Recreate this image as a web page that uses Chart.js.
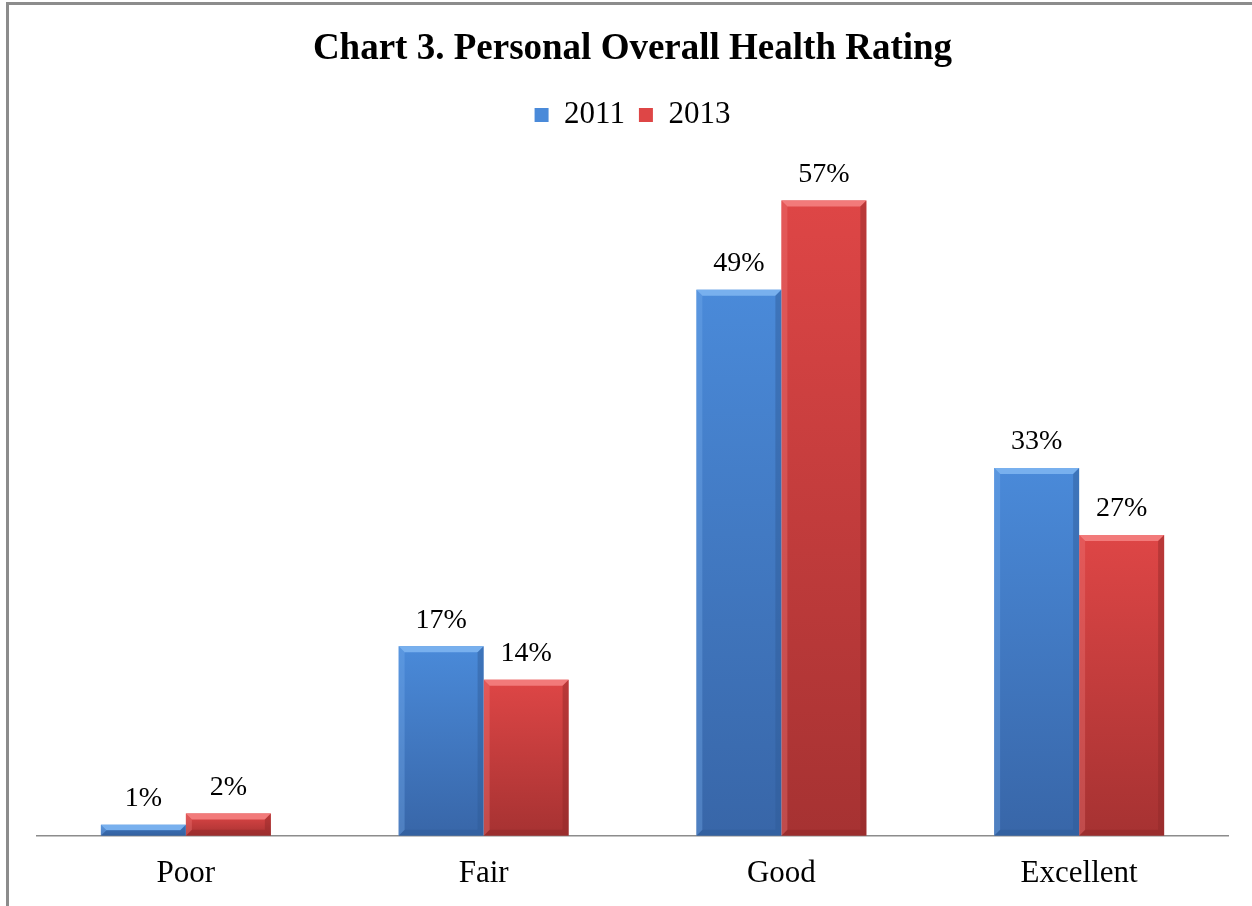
<!DOCTYPE html>
<html>
<head>
<meta charset="utf-8">
<script src="https://cdn.jsdelivr.net/npm/chart.js@4.4.0/dist/chart.umd.min.js"></script>
<style>
  html, body { margin: 0; padding: 0; background: #fff; }
  #wrap { position: relative; width: 1252px; height: 906px; overflow: hidden; }
  #frame { position: absolute; left: 6px; top: 2px; width: 1400px; height: 1000px;
           border-top: 3px solid #8c8c8c; border-left: 3px solid #8c8c8c; }
  #healthChart { position: absolute; left: 0; top: 0; }
</style>
</head>
<body>
<div id="wrap">
  <div id="frame"></div>
  <canvas id="healthChart" width="1252" height="906"></canvas>
</div>
<script>
var categories = ["Poor", "Fair", "Good", "Excellent"];
var years = ["2011", "2013"];
var values2011 = [1, 17, 49, 33];
var values2013 = [2, 14, 57, 27];

var serifFont = "'Liberation Serif', 'Times New Roman', serif";

// top / bottom / bevel colours per series
var palette = {
  "2011": { top: "#4a8ad9", bottom: "#3866a8", solid: "#3f77c4", light: "#78b0ee", dark: "#2f5a96" },
  "2013": { top: "#de4646", bottom: "#a63232", solid: "#c83c3c", light: "#f27a7a", dark: "#8e2828" }
};

function barFill(year)
{
  return function (context)
  {
    var chart = context.chart;
    var c = palette[year];
    if (context.type !== 'data' || !chart.scales.y) {
      return c.solid;
    }
    var yScale = chart.scales.y;
    var top = yScale.getPixelForValue(context.parsed.y);
    var base = yScale.getPixelForValue(0);
    if (!isFinite(top) || !isFinite(base) || base - top < 1) {
      return c.solid;
    }
    var g = chart.ctx.createLinearGradient(0, top, 0, base);
    g.addColorStop(0, c.top);
    g.addColorStop(1, c.bottom);
    return g;
  };
}

// Bevel edges on each bar, taken from the bar elements
var bevelPlugin = {
  id: 'bevel',
  afterDatasetsDraw: function (chart)
  {
    var ctx = chart.ctx;
    chart.data.datasets.forEach(function (ds, di) {
      var c = palette[ds.label];
      chart.getDatasetMeta(di).data.forEach(function (bar) {
        var left = bar.x - bar.width / 2;
        var right = bar.x + bar.width / 2;
        var top = bar.y;
        var base = bar.base;
        var b = Math.min(6, (base - top) / 2);
        ctx.save();
        // top bevel
        ctx.fillStyle = c.light;
        ctx.beginPath();
        ctx.moveTo(left, top);
        ctx.lineTo(right, top);
        ctx.lineTo(right - b, top + b);
        ctx.lineTo(left + b, top + b);
        ctx.closePath();
        ctx.fill();
        // right side shade
        ctx.fillStyle = c.dark;
        ctx.globalAlpha = 0.45;
        ctx.beginPath();
        ctx.moveTo(right, top);
        ctx.lineTo(right, base);
        ctx.lineTo(right - b, base - b);
        ctx.lineTo(right - b, top + b);
        ctx.closePath();
        ctx.fill();
        // bottom shade
        ctx.beginPath();
        ctx.moveTo(left, base);
        ctx.lineTo(right, base);
        ctx.lineTo(right - b, base - b);
        ctx.lineTo(left + b, base - b);
        ctx.closePath();
        ctx.fill();
        // left side light
        ctx.fillStyle = c.light;
        ctx.globalAlpha = 0.35;
        ctx.beginPath();
        ctx.moveTo(left, top);
        ctx.lineTo(left, base);
        ctx.lineTo(left + b, base - b);
        ctx.lineTo(left + b, top + b);
        ctx.closePath();
        ctx.fill();
        ctx.restore();
      });
    });
  }
};

// Value labels above bars
var valueLabels = {
  id: 'valueLabels',
  afterDatasetsDraw: function (chart)
  {
    var ctx = chart.ctx;
    ctx.save();
    ctx.font = "28px " + serifFont;
    ctx.fillStyle = "#000";
    ctx.textAlign = "center";
    ctx.textBaseline = "middle";
    chart.data.datasets.forEach(function (ds, di) {
      chart.getDatasetMeta(di).data.forEach(function (bar, i) {
        ctx.fillText(ds.data[i] + "%", bar.x, bar.y - 26);
      });
    });
    ctx.restore();
  }
};

new Chart(document.getElementById('healthChart'), {
  type: 'bar',
  data: {
    labels: categories,
    datasets: [
      {
        label: years[0],
        data: values2011,
        backgroundColor: barFill("2011"),
        borderWidth: 0,
        categoryPercentage: 0.571,
        barPercentage: 1
      },
      {
        label: years[1],
        data: values2013,
        backgroundColor: barFill("2013"),
        borderWidth: 0,
        categoryPercentage: 0.571,
        barPercentage: 1
      }
    ]
  },
  options: {
    responsive: false,
    animation: false,
    layout: {
      padding: { left: 37, right: 24, top: 0, bottom: -5 }
    },
    plugins: {
      title: {
        display: true,
        text: "Chart 3. Personal Overall Health Rating",
        color: "#000",
        font: { family: serifFont, size: 37, weight: 'bold', lineHeight: 1.2 },
        padding: { top: 27, bottom: 14 }
      },
      legend: {
        display: true,
        position: 'top',
        labels: {
          color: "#000",
          font: { family: serifFont, size: 31 },
          boxWidth: 14,
          boxHeight: 14,
          padding: 14
        }
      },
      tooltip: { enabled: false }
    },
    scales: {
      x: {
        grid: { display: false, drawTicks: false },
        border: { display: true, color: "#8c8c8c", width: 1.5 },
        ticks: {
          color: "#000",
          padding: 19,
          font: { family: serifFont, size: 31 }
        }
      },
      y: {
        display: false,
        min: 0,
        max: 62.4
      }
    }
  },
  plugins: [bevelPlugin, valueLabels]
});
</script>
</body>
</html>
